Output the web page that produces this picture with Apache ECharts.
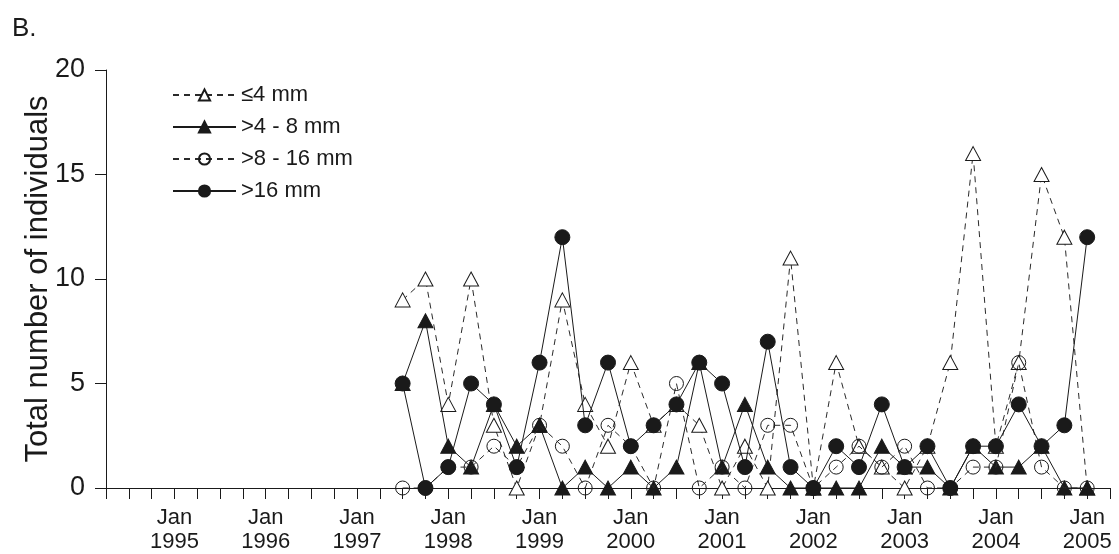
<!DOCTYPE html>
<html>
<head>
<meta charset="utf-8">
<script src="https://cdn.jsdelivr.net/npm/echarts@6/dist/echarts.min.js"></script>
<style>
  html, body { margin: 0; padding: 0; background: #fff; }
  #chart { width: 1119px; height: 554px; }
</style>
</head>
<body>
<div id="chart"></div>
<script>
// Quarterly sampling dates (year-month)
const sampleDates = [
  '1997-07','1997-10','1998-01','1998-04','1998-07','1998-10',
  '1999-01','1999-04','1999-07','1999-10','2000-01','2000-04',
  '2000-07','2000-10','2001-01','2001-04','2001-07','2001-10',
  '2002-01','2002-04','2002-07','2002-10','2003-01','2003-04',
  '2003-07','2003-10','2004-01','2004-04','2004-07','2004-10',
  '2005-01'
];

// Counts per size class
const sizeLe4   = [9,10,4,10,3,0,3,9,4,2,6,3,4,3,0,2,0,11,0,6,2,1,0,2,6,16,2,6,15,12,0];
const size4to8  = [5,8,2,1,4,2,3,0,1,0,1,0,1,6,1,4,1,0,0,0,0,2,1,1,0,2,1,1,2,0,0];
const size8to16 = [0,0,1,1,2,1,3,2,0,3,2,0,5,0,1,0,3,3,0,1,2,1,2,0,0,1,1,6,1,0,0];
const sizeGt16  = [5,0,1,5,4,1,6,12,3,6,2,3,4,6,5,1,7,1,0,2,1,4,1,2,0,2,2,4,2,3,12];

const seriesNames = ['≤4 mm', '>4 - 8 mm', '>8 - 16 mm', '>16 mm'];
const yTicks = [0, 5, 10, 15, 20];
const firstYear = 1995;

// months counted from Jan 1995
function monthIndex(d) {
  const [y, m] = d.split('-').map(Number);
  return (y - firstYear) * 12 + (m - 1);
}
const xs = sampleDates.map(monthIndex);
const pairs = vals => vals.map((v, i) => [xs[i], v]);

const ink = '#1a1a1a';
const font = 'Liberation Sans, Arial, sans-serif';
const dashed = { color: '#2a2a2a', width: 1, type: [6, 5] };
const solid = { color: ink, width: 1, type: 'solid' };

const chart = echarts.init(document.getElementById('chart'), null, { renderer: 'canvas' });
chart.setOption({
  animation: false,
  backgroundColor: '#fff',
  textStyle: { fontFamily: font },
  title: {
    text: 'B.', left: 7, top: 11,
    textStyle: { fontSize: 26, fontWeight: 'normal', color: ink, fontFamily: font }
  },
  grid: { left: 106, right: 9, top: 70, bottom: 66, containLabel: false },
  legend: {
    orient: 'vertical', left: 167, top: 78,
    itemWidth: 63, itemHeight: 14, itemGap: 8,
    data: seriesNames,
    textStyle: { fontSize: 22, color: ink, lineHeight: 24, fontFamily: font }
  },
  xAxis: {
    type: 'value', min: -9, max: 123, interval: 3,
    axisLine: { onZero: false, lineStyle: { color: ink, width: 1 } },
    axisTick: { show: true, length: 11, lineStyle: { color: ink } },
    splitLine: { show: false },
    axisLabel: {
      color: ink, fontSize: 22, lineHeight: 24, margin: 18,
      showMinLabel: true, showMaxLabel: true,
      formatter: v => (v >= 0 && v % 12 === 0) ? 'Jan\n' + (firstYear + v / 12) : ''
    }
  },
  yAxis: {
    type: 'value', min: yTicks[0], max: yTicks[yTicks.length - 1], interval: 5,
    name: 'Total number of individuals', nameLocation: 'middle', nameGap: 52, nameRotate: 90,
    nameMoveOverlap: false,
    nameTextStyle: { fontSize: 31, color: ink },
    axisLine: { show: true, onZero: false, lineStyle: { color: ink, width: 1 } },
    axisTick: { show: true, length: 11, lineStyle: { color: ink } },
    splitLine: { show: false },
    axisLabel: { color: ink, fontSize: 27, margin: 21 }
  },
  series: [
    {
      name: seriesNames[0], type: 'line', data: pairs(sizeLe4),
      symbol: 'triangle', symbolSize: [15, 14], showAllSymbol: true,
      lineStyle: dashed,
      itemStyle: { color: '#fff', borderColor: ink, borderWidth: 1 },
      z: 2
    },
    {
      name: seriesNames[1], type: 'line', data: pairs(size4to8),
      symbol: 'triangle', symbolSize: [15, 14], showAllSymbol: true,
      lineStyle: solid,
      itemStyle: { color: ink, borderColor: ink, borderWidth: 1 },
      z: 3
    },
    {
      name: seriesNames[2], type: 'line', data: pairs(size8to16),
      symbol: 'circle', symbolSize: 14, showAllSymbol: true,
      lineStyle: dashed,
      itemStyle: { color: 'rgba(255,255,255,0)', borderColor: ink, borderWidth: 1 },
      z: 4
    },
    {
      name: seriesNames[3], type: 'line', data: pairs(sizeGt16),
      symbol: 'circle', symbolSize: 15, showAllSymbol: true,
      lineStyle: solid,
      itemStyle: { color: ink, borderColor: ink, borderWidth: 1 },
      z: 5
    }
  ]
});
</script>
</body>
</html>
